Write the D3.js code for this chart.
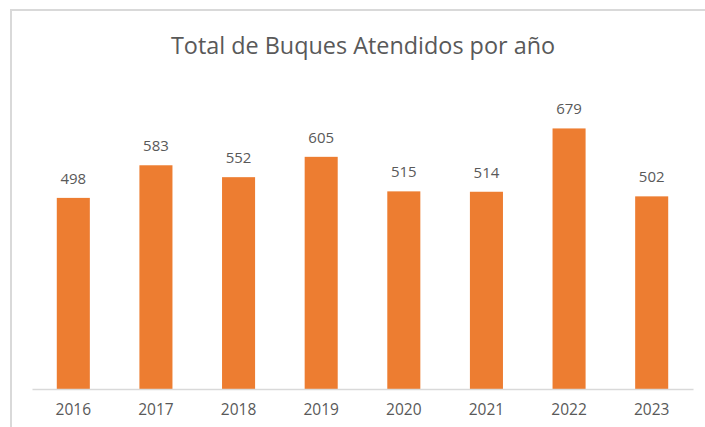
<!DOCTYPE html>
<html>
<head>
<meta charset="utf-8">
<script src="https://cdn.jsdelivr.net/npm/d3@7"></script>
<style>
  body { margin: 0; background: #fff; }
  text { font-family: "Open Sans", "Liberation Sans", sans-serif; fill: #595959; }
</style>
</head>
<body>
<script>
// Data
const years = ["2016", "2017", "2018", "2019", "2020", "2021", "2022", "2023"];
const buques = [498, 583, 552, 605, 515, 514, 679, 502];
const chartTitle = "Total de Buques Atendidos por año";

const width = 705, height = 427;
const plotLeft = 32, plotRight = 693, plotTop = 82, baseline = 389;

const svg = d3.select("body").append("svg")
    .attr("width", width)
    .attr("height", height);

// chart frame (only top and left edge visible in the crop)
svg.append("path")
    .attr("d", "M11," + height + " V10 H" + width)
    .attr("fill", "none")
    .attr("stroke", "#d9d9d9")
    .attr("stroke-width", 2);

// title
svg.append("text")
    .attr("x", 363)
    .attr("y", 54)
    .attr("text-anchor", "middle")
    .style("font-size", "23.4px")
    .text(chartTitle);

//X Axis
const x = d3.scaleBand()
    .domain(years)
    .range([plotLeft, plotRight])
    .paddingInner(0.6)
    .paddingOuter(0.3);

//Y Axis
const y = d3.scaleLinear()
    .domain([0, 800])
    .range([baseline, plotTop]);

// bars
svg.selectAll(".bar")
    .data(years)
    .enter()
    .append("rect")
    .attr("class", "bar")
    .attr("x", d => x(d))
    .attr("y", (d, i) => y(buques[i]))
    .attr("width", x.bandwidth())
    .attr("height", (d, i) => y(0) - y(buques[i]))
    .attr("fill", "#ed7d31");

// value labels
svg.selectAll(".valueLabel")
    .data(years)
    .enter()
    .append("text")
    .attr("class", "valueLabel")
    .attr("x", d => x(d) + x.bandwidth() / 2)
    .attr("y", (d, i) => y(buques[i]) - 14)
    .attr("text-anchor", "middle")
    .style("font-size", "15px")
    .text((d, i) => buques[i]);

//Bottom axis
const xAxis = svg.append("g")
    .attr("transform", "translate(0," + baseline + ")")
    .call(d3.axisBottom(x).tickSize(0).tickPadding(15));

xAxis.select(".domain")
    .attr("stroke", "#d9d9d9")
    .attr("stroke-width", 1.5);

xAxis.selectAll("text")
    .style("font-family", "\"Open Sans\", \"Liberation Sans\", sans-serif")
    .style("font-size", "15.5px")
    .attr("fill", "#595959");
</script>
</body>
</html>
